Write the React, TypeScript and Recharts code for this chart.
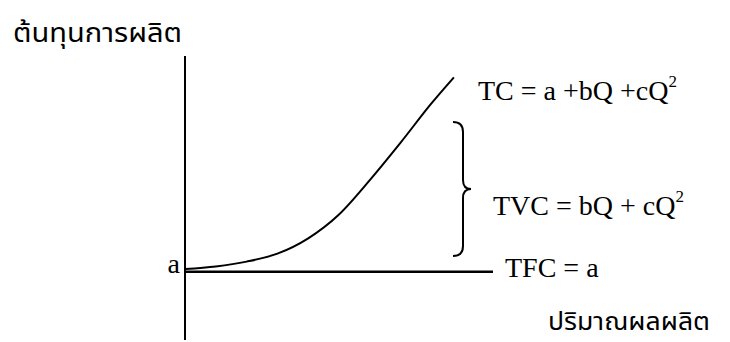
import { Line, LineChart, XAxis, YAxis } from "recharts";

// quantity (Q) and total cost
const quantity = [0, 1, 2, 3, 4, 5, 6, 7, 8, 8.73];
const totalCost = [25, 25.9, 27.6, 30.4, 35.8, 44.2, 56.3, 69.5, 83.3, 92.5];

// fixed cost line
const fixedQuantity = [0, 10];
const fixedCost = [24, 24];

const yTicks = [24];
const yTickLabels = ["a"];

const tcData = quantity.map((q, i) => ({ q, tc: totalCost[i] }));
const tfcData = fixedQuantity.map((q, i) => ({ q, tfc: fixedCost[i] }));

const serif = '"Liberation Serif", "Times New Roman", serif';
const thai = '"Noto Sans Thai", "Noto Serif Thai", Loma, Garuda, "DejaVu Sans", sans-serif';

function LetterTick({ x, y, index }: { x?: number; y?: number; index?: number }) {
  return (
    <text
      x={(x ?? 0) - 5}
      y={(y ?? 0) + 1}
      textAnchor="end"
      fontFamily={serif}
      fontSize={28}
      fill="#000"
    >
      {yTickLabels[index ?? 0]}
    </text>
  );
}

function Annotations() {
  return (
    <g>
      <text
        x={13}
        y={42}
        fontFamily={thai}
        fontSize={27}
        fill="#000"
        textLength={169}
        lengthAdjust="spacingAndGlyphs"
      >
        ต้นทุนการผลิต
      </text>
      <text
        x={548}
        y={330}
        fontFamily={thai}
        fontSize={25}
        fill="#000"
        textLength={162}
        lengthAdjust="spacingAndGlyphs"
      >
        ปริมาณผลผลิต
      </text>
      <text x={478} y={100} fontFamily={serif} fontSize={28} fill="#000">
        TC = a +bQ +cQ
        <tspan fontSize={17} dy={-13}>2</tspan>
      </text>
      <text x={493} y={215} fontFamily={serif} fontSize={28} fill="#000">
        TVC = bQ + cQ
        <tspan fontSize={17} dy={-13}>2</tspan>
      </text>
      <text x={505} y={277} fontFamily={serif} fontSize={28} fill="#000">
        TFC = a
      </text>
      <path
        d="M453,122 Q463,122 463,132 L463,180 Q463,189 471,189 Q463,189 463,198 L463,246 Q463,256 453,256"
        fill="none"
        stroke="#000"
        strokeWidth={2}
      />
    </g>
  );
}

export default function App() {
  return (
    <div style={{ position: "absolute", left: 0, top: 0, width: 730, height: 342, background: "#fff" }}>
      <LineChart width={730} height={342} margin={{ top: 56, right: 237, bottom: 2, left: 145 }}>
        <XAxis dataKey="q" type="number" domain={[0, 10]} hide />
        <YAxis
          type="number"
          domain={[0, 100]}
          width={40}
          ticks={yTicks}
          tick={<LetterTick />}
          tickLine={false}
          tickSize={0}
          tickMargin={0}
          axisLine={{ stroke: "#000", strokeWidth: 2 }}
        />
        <Line
          data={tfcData}
          dataKey="tfc"
          type="linear"
          stroke="#000"
          strokeWidth={2.5}
          dot={false}
          isAnimationActive={false}
        />
        <Line
          data={tcData}
          dataKey="tc"
          type="monotone"
          stroke="#000"
          strokeWidth={2}
          dot={false}
          isAnimationActive={false}
        />
        <Annotations />
      </LineChart>
    </div>
  );
}
